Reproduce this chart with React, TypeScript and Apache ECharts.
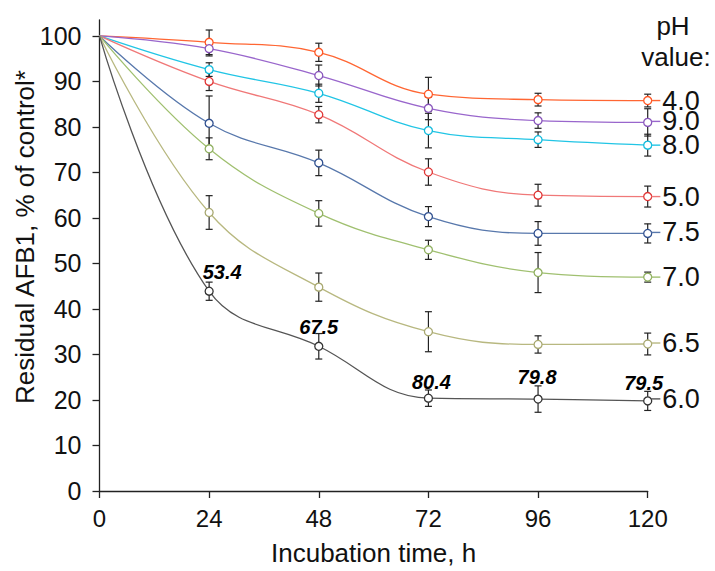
import React, { useEffect, useRef } from "react";
import * as echarts from "echarts";

const times = [0, 24, 48, 72, 96, 120];
const phNames = ["4.0", "9.0", "8.0", "5.0", "7.5", "7.0", "6.5", "6.0"];
const ph40 = [100, 98.6, 96.4, 87.2, 86.0, 85.8];
const ph90 = [100, 97.2, 91.3, 84.1, 81.4, 81.0];
const ph80 = [100, 92.6, 87.4, 79.2, 77.2, 76.0];
const ph50 = [100, 90.0, 82.7, 70.1, 65.0, 64.7];
const ph75 = [100, 80.8, 72.1, 60.3, 56.6, 56.6];
const ph70 = [100, 75.2, 61.0, 53.0, 48.0, 47.0];
const ph65 = [100, 61.2, 44.8, 35.0, 32.2, 32.3];
const ph60 = [100, 43.9, 31.8, 20.4, 20.2, 19.8];
const err40 = [0, 2.7, 2.0, 3.7, 1.4, 1.4];
const err90 = [0, 1.6, 2.3, 2.5, 1.7, 3.0];
const err80 = [0, 1.5, 2.0, 3.8, 1.7, 2.4];
const err50 = [0, 2.0, 1.8, 2.9, 2.4, 2.3];
const err75 = [0, 6.0, 2.8, 2.2, 2.6, 2.1];
const err70 = [0, 2.4, 2.8, 2.1, 4.4, 1.1];
const err65 = [0, 3.7, 3.1, 4.4, 1.9, 2.4];
const err60 = [0, 2.0, 2.8, 1.8, 2.9, 2.1];
const annTimes = [24, 48, 72, 96, 120];
const annTexts = ["53.4", "67.5", "80.4", "79.8", "79.5"];
const yTicks = [0, 10, 20, 30, 40, 50, 60, 70, 80, 90, 100];

const FONT = "'Liberation Sans', Arial, sans-serif";

export default function App() {
  const ref = useRef<HTMLDivElement>(null);
  useEffect(() => {
    if (!ref.current) return;
    const chart = echarts.init(ref.current, null, { renderer: "svg" });
    const values = [ph40, ph90, ph80, ph50, ph75, ph70, ph65, ph60];
    const errs = [err40, err90, err80, err50, err75, err70, err65, err60];
    const lineColors = ["#FF6633", "#9966CC", "#22C5E5", "#F07878", "#5878AC", "#A0C070", "#B8B880", "#555555"];
    const markColors = ["#FF5522", "#8855BB", "#11BBDD", "#E03535", "#2F4F8F", "#90B060", "#A8A870", "#333333"];
    const annOffsets = [[13, 0], [0, 0], [3, 3], [-1, -3], [-4, 1]];
    const endOffsets = [[0, 0], [0, -1], [0, 0], [0, 0], [0, -1], [0, 0], [0, -1], [0, -2]];

    const errData: number[][] = [];
    values.forEach((vals, s) => {
      vals.forEach((v, i) => {
        if (errs[s][i] > 0) errData.push([times[i], v - errs[s][i], v + errs[s][i]]);
      });
    });

    const lineSeries = values.map((vals, s) => ({
      type: "line",
      name: phNames[s],
      smooth: 0.4,
      z: 3,
      symbol: "circle",
      symbolSize: 8,
      showAllSymbol: true,
      lineStyle: { color: lineColors[s], width: 1.3 },
      itemStyle: { color: "#ffffff", borderColor: markColors[s], borderWidth: 1.3 },
      data: vals.map((v, i) => {
        const item: any = { value: [times[i], v] };
        if (i === 0) item.symbol = "none";
        if (i === vals.length - 1) {
          item.label = {
            show: true,
            position: "right",
            distance: -1,
            offset: endOffsets[s],
            formatter: "{d|}{t|" + phNames[s] + "}",
            rich: {
              d: { width: 9, height: 1.4, backgroundColor: lineColors[s], verticalAlign: "middle" },
              t: { fontSize: 27, lineHeight: 21, fontFamily: FONT, color: "#111", padding: [0, 0, 0, 2], verticalAlign: "middle" },
            },
          };
        }
        return item;
      }),
    }));

    const option: any = {
      animation: false,
      grid: { left: 99.5, right: 67.3, top: 20, bottom: 76 },
      xAxis: {
        type: "value",
        min: 0,
        max: 120,
        interval: 24,
        axisLine: { lineStyle: { color: "#222", width: 1.3 } },
        axisTick: { length: 7, lineStyle: { color: "#222", width: 1.3 } },
        axisLabel: { fontSize: 24, fontFamily: FONT, color: "#111", margin: 15 },
        splitLine: { show: false },
        name: "Incubation time, h",
        nameLocation: "middle",
        nameGap: 49,
        nameTextStyle: { fontSize: 26, fontFamily: FONT, color: "#111" },
      },
      yAxis: {
        type: "value",
        min: 0,
        max: 103.5,
        axisLine: { show: true, lineStyle: { color: "#222", width: 1.3 } },
        axisTick: { show: true, length: 7, customValues: yTicks, lineStyle: { color: "#222", width: 1.3 } },
        axisLabel: { customValues: yTicks, fontSize: 25, fontFamily: FONT, color: "#111", margin: 18 },
        splitLine: { show: false },
      },
      graphic: [
        {
          type: "text",
          x: 25,
          y: 237,
          rotation: Math.PI / 2,
          style: { text: "Residual AFB1, % of control*", fontSize: 26, fontFamily: FONT, fill: "#111", align: "center", verticalAlign: "middle" },
        },
        {
          type: "text",
          x: 673,
          y: 26,
          style: { text: "pH", fontSize: 26, fontFamily: FONT, fill: "#111", align: "center", verticalAlign: "middle" },
        },
        {
          type: "text",
          x: 676,
          y: 57,
          style: { text: "value:", fontSize: 26, fontFamily: FONT, fill: "#111", align: "center", verticalAlign: "middle" },
        },
      ],
      series: [
        {
          type: "custom",
          z: 2,
          encode: { x: 0, y: [1, 2] },
          data: errData,
          renderItem: (params: any, api: any) => {
            const lo = api.coord([api.value(0), api.value(1)]);
            const hi = api.coord([api.value(0), api.value(2)]);
            const hw = 3.5;
            const st = { stroke: "#222", lineWidth: 1.2 };
            return {
              type: "group",
              children: [
                { type: "line", shape: { x1: lo[0], y1: lo[1], x2: hi[0], y2: hi[1] }, style: st },
                { type: "line", shape: { x1: lo[0] - hw, y1: lo[1], x2: lo[0] + hw, y2: lo[1] }, style: st },
                { type: "line", shape: { x1: hi[0] - hw, y1: hi[1], x2: hi[0] + hw, y2: hi[1] }, style: st },
              ],
            };
          },
        },
        ...lineSeries,
        {
          type: "scatter",
          z: 4,
          symbol: "circle",
          symbolSize: 0.01,
          itemStyle: { color: "#111111", opacity: 1 },
          data: annTimes.map((t, i) => ({
            value: [t, ph60[times.indexOf(t)]],
            label: {
              show: true,
              position: "top",
              distance: 9,
              offset: annOffsets[i],
              formatter: annTexts[i],
              fontSize: 20,
              fontStyle: "italic",
              fontWeight: "bold",
              fontFamily: FONT,
              color: "#000000",
              opacity: 1,
            },
          })),
        },
      ],
    };
    chart.setOption(option);
    return () => chart.dispose();
  }, []);
  return <div ref={ref} style={{ position: "fixed", left: 0, top: 0, width: 715, height: 571, background: "#fff" }} />;
}
